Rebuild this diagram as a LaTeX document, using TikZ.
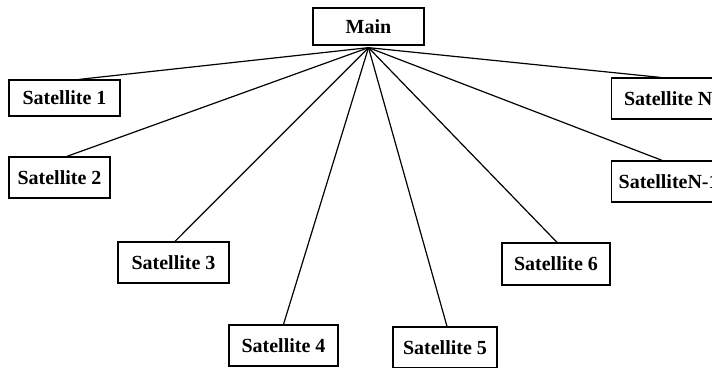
\documentclass[tikz,border=0pt]{standalone}
\usepackage{fontspec}
\setmainfont{Liberation Serif}
\begin{document}
\begin{tikzpicture}[x=1pt,y=-1pt,
  box/.style={draw, line width=1.3pt, inner sep=0pt, font=\fontsize{20}{23}\selectfont\bfseries, text height=13.5pt, text depth=0pt},
  link/.style={line width=1.2pt}]
\clip (0,0) rectangle (712,367);
\fill[white] (0,0) rectangle (712,367);
\node[box, minimum width=111pt, minimum height=37pt] (main) at (368.5,26.5) {Main};
\node[box, minimum width=111pt, minimum height=36pt] (s1) at (64.5,98) {Satellite 1};
\node[box, minimum width=101pt, minimum height=41pt] (s2) at (59.5,177.5) {Satellite 2};
\node[box, minimum width=111pt, minimum height=41pt] (s3) at (173.5,262.5) {Satellite 3};
\node[box, minimum width=109pt, minimum height=41pt] (s4) at (283.5,345.5) {Satellite 4};
\node[box, minimum width=104pt, minimum height=41pt] (s5) at (445,347.5) {Satellite 5};
\node[box, minimum width=108pt, minimum height=42pt] (s6) at (556,264) {Satellite 6};
\node[box, minimum width=111pt, minimum height=41pt, anchor=west] (sn) at (611,98.5) {\hspace{2pt}Satellite N\hspace{24pt}};
\node[box, minimum width=111pt, minimum height=41pt, anchor=west] (sn1) at (611,181.5) {\hspace{3pt}SatelliteN-1\hspace{12pt}};
\coordinate (hub) at ([yshift=-2pt]main.south);
\draw[link] (hub) -- ([xshift=15pt]s1.north);
\draw[link] (hub) -- ([xshift=7.5pt]s2.north);
\draw[link] (hub) -- ([xshift=1.5pt]s3.north);
\draw[link] (hub) -- ([xshift=0pt]s4.north);
\draw[link] (hub) -- ([xshift=2pt]s5.north);
\draw[link] (hub) -- ([xshift=1pt]s6.north);
\draw[link] (hub) -- ([xshift=49pt]sn.north west);
\draw[link] (hub) -- ([xshift=51pt]sn1.north west);
\end{tikzpicture}
\end{document}
